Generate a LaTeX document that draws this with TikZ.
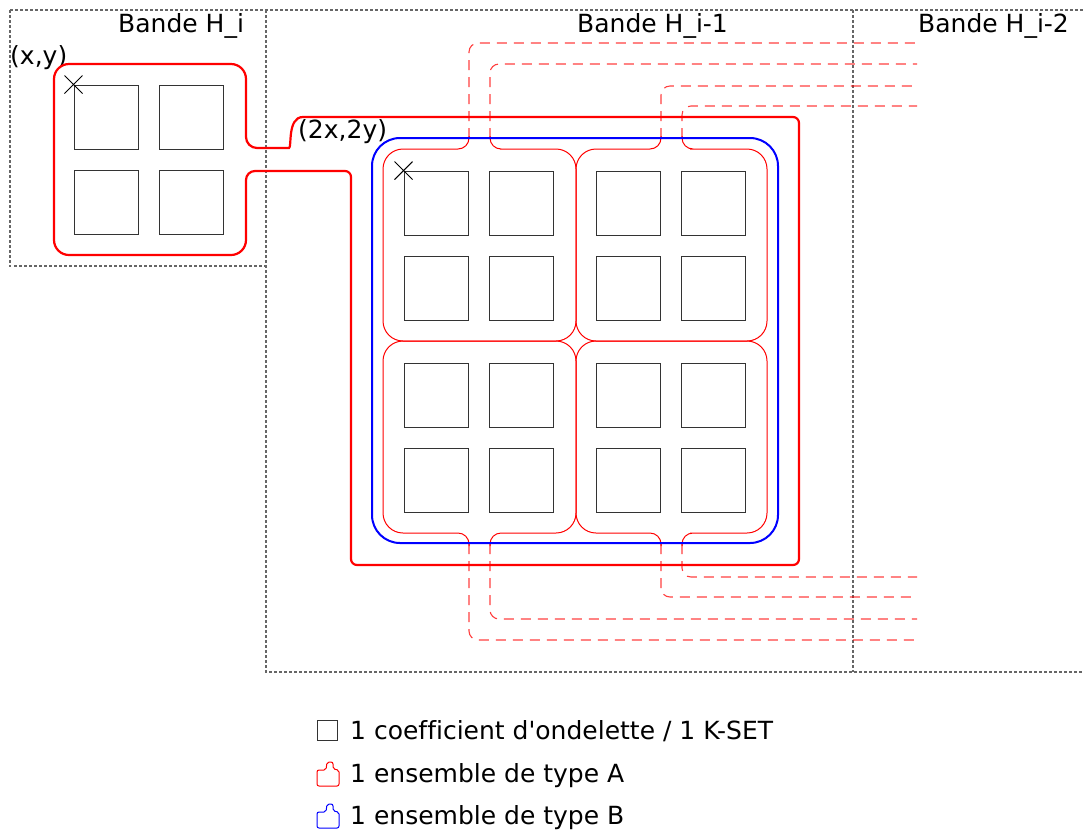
\documentclass[tikz,border=0pt]{standalone}
\usepackage{fontspec}
\newfontfamily\dejavu[Ligatures=NoCommon]{DejaVu Sans}
\begin{document}
\begin{tikzpicture}[x=1pt, y=-1pt]
    \tikzstyle{band}=[draw=black!60, line width=1.1pt, dash pattern=on 2.5pt off 2.5pt]
    \tikzstyle{coef}=[rectangle, draw=black!80, line width=0.9pt, minimum size=64pt, inner sep=0pt]
    \tikzstyle{txt}=[font=\dejavu\fontsize{25}{30}\selectfont, inner sep=0pt, anchor=base west]
    \tikzstyle{setA}=[draw=red, line width=2.2pt]
    \tikzstyle{setB}=[draw=blue, line width=2pt]
    \tikzstyle{subA}=[draw=red, line width=1pt]
    \tikzstyle{desc}=[draw=red, opacity=0.75, line width=1.1pt, dash pattern=on 10pt off 7pt, rounded corners=9pt]
    \tikzstyle{crossmark}=[draw=black, line width=0.9pt]
    \useasboundingbox (0,0) rectangle (1083,831);

    % bandes
    \draw[band] (10,10) -- (1083,10);
    \draw[band] (10,10) -- (10,266) -- (266,266);
    \draw[band] (266,10) -- (266,672) -- (1083,672);
    \draw[band] (853,10) -- (853,672);
    \node[txt] (bandi) at (118,32) {Bande H\_i};
    \node[txt] (bandi1) at (577,32) {Bande H\_i-1};
    \node[txt] (bandi2) at (918,32) {Bande H\_i-2};
    \node[txt] (xy) at (10,64) {(x,y)};
    \node[txt] (xy2) at (298,138) {(2x,2y)};

    % coefficients
    \foreach \cx/\cy [count=\k] in {106/117, 191/117, 106/202, 191/202}
        \node[coef] (small\k) at (\cx,\cy) {};
    \foreach \cy [count=\r] in {203,288,395,480}
        \foreach \cx [count=\c] in {436,521,628,713}
            \node[coef] (big\r\c) at (\cx,\cy) {};
    \draw[crossmark] (small1.north west) +(-9,-9) -- +(9,9) (small1.north west) +(-9,9) -- +(9,-9);
    \draw[crossmark] (big11.north west) +(-9,-9) -- +(9,9) (big11.north west) +(-9,9) -- +(9,-9);

    % descendants dans H_i-2
    \draw[desc] (469,138) -- (469,43) -- (917,43);
    \draw[desc] (490,138) -- (490,64) -- (917,64);
    \draw[desc] (661,138) -- (661,86) -- (917,86);
    \draw[desc] (682,138) -- (682,106) -- (917,106);
    \draw[desc] (469,544) -- (469,640) -- (917,640);
    \draw[desc] (490,544) -- (490,619) -- (917,619);
    \draw[desc] (661,544) -- (661,597) -- (917,597);
    \draw[desc] (682,544) -- (682,577) -- (917,577);

    % ensembles de type A dans H_i-1
    \draw[subA] (469,136) [rounded corners=11pt] -- (469,149) -- (440,149) [rounded corners=20pt] -- (383,149) -- (383,341) -- (576,341) -- (576,149) -- (520,149) [rounded corners=11pt] -- (490,149) -- (490,136);
    \draw[subA] (661,136) [rounded corners=11pt] -- (661,149) -- (630,149) [rounded corners=20pt] -- (576,149) -- (576,341) -- (767,341) -- (767,149) -- (710,149) [rounded corners=11pt] -- (682,149) -- (682,136);
    \draw[subA] (469,546) [rounded corners=11pt] -- (469,533) -- (440,533) [rounded corners=20pt] -- (383,533) -- (383,341) -- (576,341) -- (576,533) -- (520,533) [rounded corners=11pt] -- (490,533) -- (490,546);
    \draw[subA] (661,546) [rounded corners=11pt] -- (661,533) -- (630,533) [rounded corners=20pt] -- (576,533) -- (576,341) -- (767,341) -- (767,533) -- (710,533) [rounded corners=11pt] -- (682,533) -- (682,546);

    % ensemble de type B
    \draw[setB, rounded corners=28pt] (372,138) rectangle (778,543);

    % ensemble de type A dans H_i
    \draw[setA] (54,200) [rounded corners=15pt] -- (54,64) -- (246,64) -- (246,100) [rounded corners=11pt] -- (246,148) -- (278,148) [sharp corners] .. controls (292,148) and (287,117) .. (303,117) -- (400,117) [rounded corners=6pt] -- (799,117) -- (799,565) -- (351,565) -- (351,171) -- (300,171) [rounded corners=9pt] -- (246,171) -- (246,210) [rounded corners=15pt] -- (246,255) -- (54,255) -- cycle;

    % legende
    \node[coef, minimum size=20pt] (legcoef) at (327,730) {};
    \node[txt] (legcoeftxt) at (350,739) {1 coefficient d'ondelette / 1 K-SET};
    \draw[subA, rounded corners=2pt] (317,786) -- (317,770) -- (326,770) -- (327,762) -- (333,762) -- (333,769) -- (339,770) -- (339,786) -- cycle;
    \node[txt] (legatxt) at (350,782) {1 ensemble de type A};
    \draw[subA, draw=blue, rounded corners=2pt] (317,828) -- (317,812) -- (326,812) -- (327,804) -- (333,804) -- (333,811) -- (339,812) -- (339,828) -- cycle;
    \node[txt] (legbtxt) at (350,824) {1 ensemble de type B};
\end{tikzpicture}
\end{document}
